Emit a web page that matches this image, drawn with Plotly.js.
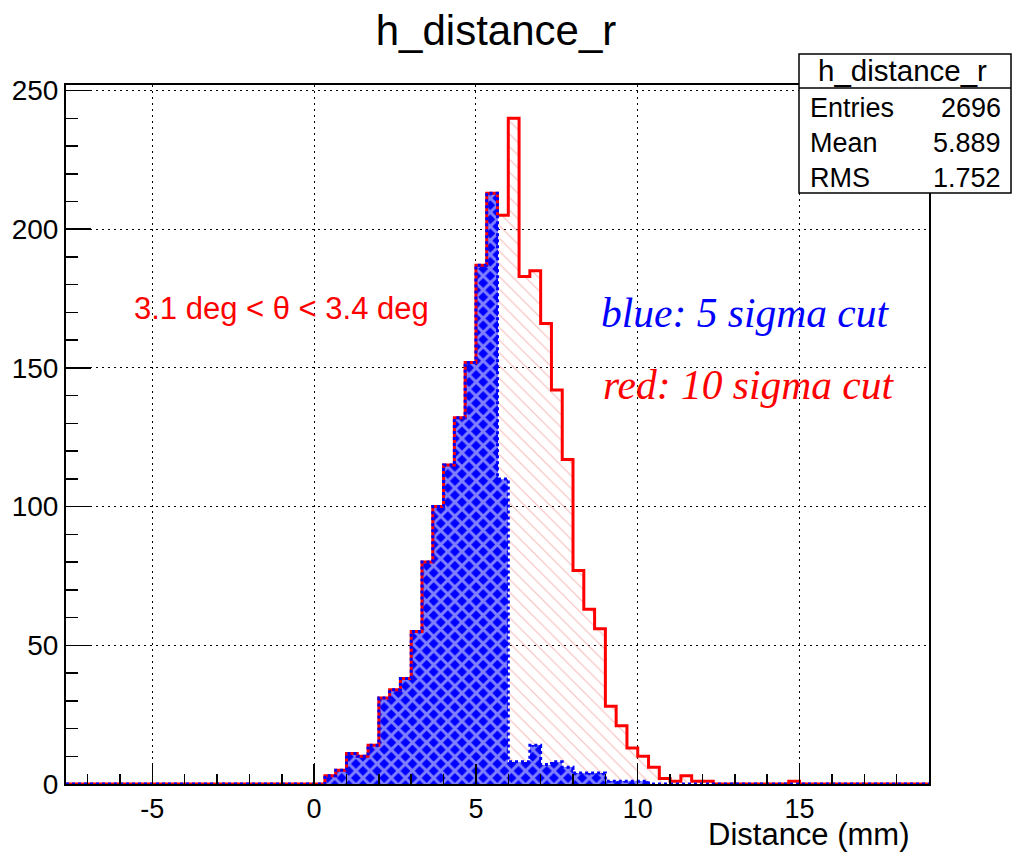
<!DOCTYPE html>
<html>
<head>
<meta charset="utf-8">
<script src="https://cdn.plot.ly/plotly-3.0.1.min.js"></script>
<style>html,body{margin:0;padding:0;background:#fff;}#chart{width:1013px;height:853px;}</style>
</head>
<body>
<div id="chart"></div>
<script>
// Histogram binning (80 bins of 1/3 mm from -23/3 to 19)
const xLow = -23 / 3;
const xHigh = 19;
const nBins = 80;

// Red: 10 sigma cut (h_distance_r), counts per bin, bin 0 starts at xLow
const redCounts = [
  0,0,0,0,0,0,0,0,0,0,0,0,0,0,0,0,0,0,0,0,0,0,0,
  0,3,5,11,10,14,31,34,38,55,80,100,115,132,152,187,213,205,240,183,185,166,142,117,77,63,56,28,21,13,10,6,2,1,3,1,1,
  0,0,0,0,0,0,0,1,
  0,0,0,0,0,0,0,0,0,0,0,0
];
// Blue: 5 sigma cut
const blueCounts = [
  0,0,0,0,0,0,0,0,0,0,0,0,0,0,0,0,0,0,0,0,0,0,0,
  0,3,5,11,10,14,31,34,38,55,80,100,115,132,152,187,213,110,8,8,14,7,8,6,4,4,4,1,1,1,1,0,0,0,0,0,0,
  0,0,0,0,0,0,0,0,
  0,0,0,0,0,0,0,0,0,0,0,0
];

// Axis tick labels
const xTickVals = [-5, 0, 5, 10, 15];
const xTickText = ['-5', '0', '5', '10', '15'];
const yTickVals = [0, 50, 100, 150, 200, 250];
const yTickText = ['0', '50', '100', '150', '200', '250'];

const statsTitle = 'h_distance_r';
const statsLabels = ['Entries', 'Mean', 'RMS'];
const statsValues = ['2696', '5.889', '1.752'];

const binWidth = (xHigh - xLow) / nBins;
const centers = [], edges = [];
for (let i = 0; i <= nBins; i++) edges.push(xLow + i * binWidth);
for (let i = 0; i < nBins; i++) centers.push(xLow + (i + 0.5) * binWidth);
const stepY = a => a.concat([a[a.length - 1]]);

const BLUE = '#0000ff', RED = '#ff0000';

const traces = [
  {type:'bar', x:centers, y:redCounts, width:binWidth, hoverinfo:'skip', showlegend:false,
   marker:{color:'rgba(0,0,0,0)', line:{width:0},
     pattern:{shape:'\\', fgcolor:'#f07575', bgcolor:'rgba(255,255,255,0)', size:9, solidity:0.12, fillmode:'overlay'}}},
  {type:'bar', x:centers, y:blueCounts, width:binWidth, hoverinfo:'skip', showlegend:false,
   marker:{color:BLUE, line:{width:0},
     pattern:{shape:'x', fgcolor:'#ffffff', bgcolor:BLUE, size:10, solidity:0.5, fillmode:'overlay'}}},
  {type:'scatter', mode:'lines', x:edges, y:stepY(redCounts), hoverinfo:'skip', showlegend:false,
   line:{shape:'hv', color:RED, width:3}},
  {type:'scatter', mode:'lines', x:edges, y:stepY(blueCounts), hoverinfo:'skip', showlegend:false,
   line:{shape:'hv', color:BLUE, width:3, dash:'3px,3px'}}
];

const W = 1013, H = 853, L = 66, R = 929, T = 85, B = 784;
const px = p => (p - L) / (R - L);
const py = p => (B - p) / (B - T);
const fontS = 'Liberation Sans, Arial, Helvetica, sans-serif';
const fontSerif = 'Liberation Serif, Times New Roman, serif';

const annotations = [
  {text:'3.1 deg &lt; θ &lt; 3.4 deg', xref:'paper', yref:'paper', x:px(132), y:py(308), xanchor:'left', yanchor:'middle', showarrow:false,
   font:{family:fontS, size:31, color:RED}},
  {text:'blue: 5 sigma cut', xref:'paper', yref:'paper', x:px(599), y:py(313), xanchor:'left', yanchor:'middle', showarrow:false,
   font:{family:fontSerif, size:41.5, color:BLUE, style:'italic'}},
  {text:'red: 10 sigma cut', xref:'paper', yref:'paper', x:px(601), y:py(385), xanchor:'left', yanchor:'middle', showarrow:false,
   font:{family:fontSerif, size:41.5, color:RED, style:'italic'}},
  {text:'Distance (mm)', xref:'paper', yref:'paper', x:px(912), y:py(834), xanchor:'right', yanchor:'middle', showarrow:false,
   font:{family:fontS, size:31, color:'#000'}},
  {text:statsTitle, xref:'paper', yref:'paper', x:px(902), y:py(71), xanchor:'center', yanchor:'middle', showarrow:false,
   font:{family:fontS, size:29.5, color:'#000'}}
];
const rowsY = [108, 143, 178];
statsLabels.forEach((lab, i) => {
  annotations.push({text:lab, xref:'paper', yref:'paper', x:px(808), y:py(rowsY[i]), xanchor:'left', yanchor:'middle', showarrow:false,
    font:{family:fontS, size:27, color:'#000'}});
  annotations.push({text:statsValues[i], xref:'paper', yref:'paper', x:px(1003), y:py(rowsY[i]), xanchor:'right', yanchor:'middle', showarrow:false,
    font:{family:fontS, size:27, color:'#000'}});
});

const layout = {
  width:W, height:H,
  margin:{l:L, r:W - R, t:T, b:H - B, pad:0},
  paper_bgcolor:'#fff', plot_bgcolor:'#fff',
  barmode:'overlay', bargap:0,
  showlegend:false,
  title:{text:'h_distance_r', x:496 / W, xanchor:'center', xref:'container', y:1 - 30 / H, yanchor:'middle', yref:'container',
    font:{family:fontS, size:42, color:'#000'}},
  xaxis:{range:[xLow, xHigh], tickmode:'array', tickvals:xTickVals, ticktext:xTickText,
    ticks:'inside', ticklen:20, tickwidth:1.5, tickcolor:'#000',
    showgrid:true, gridcolor:'#000', gridwidth:1, griddash:'2px,4px', zeroline:false,
    showline:true, linecolor:'#000', linewidth:2, mirror:true,
    tickfont:{family:fontS, size:27, color:'#000'},
    minor:{dtick:1, tick0:0, ticks:'inside', ticklen:10, tickwidth:1.5, tickcolor:'#000', showgrid:false}},
  yaxis:{range:[0, 252], tickmode:'array', tickvals:yTickVals, ticktext:yTickText,
    ticks:'inside', ticklen:25, tickwidth:1.5, tickcolor:'#000',
    showgrid:true, gridcolor:'#000', gridwidth:1, griddash:'2px,4px', zeroline:false,
    showline:true, linecolor:'#000', linewidth:2, mirror:true,
    tickfont:{family:fontS, size:28, color:'#000'},
    minor:{dtick:10, tick0:0, ticks:'inside', ticklen:12, tickwidth:1.5, tickcolor:'#000', showgrid:false}},
  shapes:[
    {type:'rect', xref:'paper', yref:'paper', x0:px(799), x1:px(1011), y0:py(193), y1:py(54), layer:'above',
     line:{color:'#000', width:1.5}, fillcolor:'#fff'},
    {type:'line', xref:'paper', yref:'paper', x0:px(799), x1:px(1011), y0:py(88), y1:py(88), layer:'above',
     line:{color:'#000', width:1.5}}
  ],
  annotations:annotations
};

Plotly.newPlot('chart', traces, layout, {staticPlot:true, displayModeBar:false});
</script>
</body>
</html>
